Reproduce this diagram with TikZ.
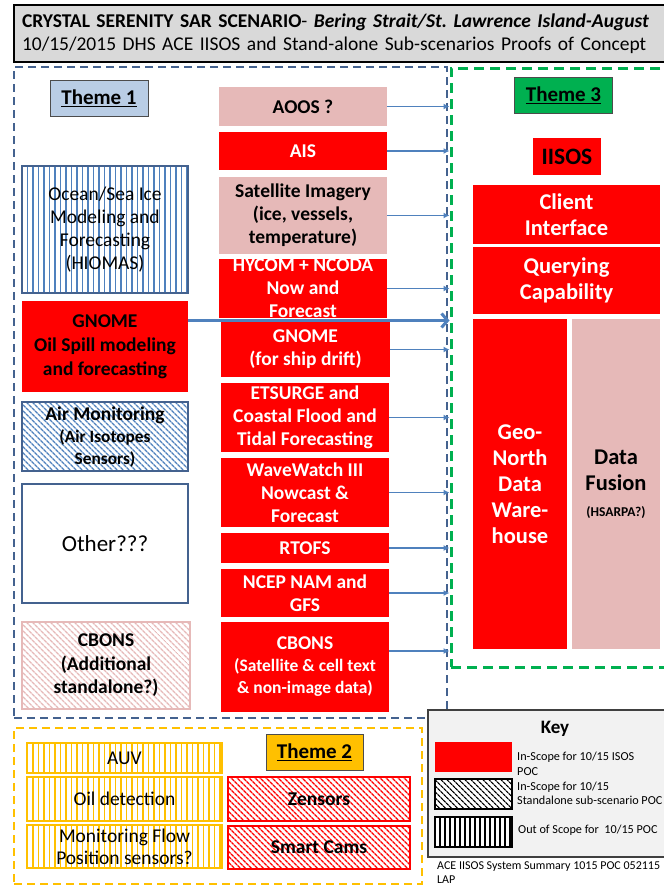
\documentclass[tikz,border=0pt]{standalone}
\usepackage{fontspec}
\setmainfont{Carlito}
\usetikzlibrary{arrows.meta,patterns.meta}
\definecolor{scopered}{RGB}{255,0,0}
\definecolor{pinkbox}{RGB}{230,185,184}
\definecolor{frameblue}{RGB}{68,98,143}
\definecolor{flowblue}{RGB}{79,129,189}
\definecolor{themegreen}{RGB}{0,176,80}
\definecolor{themeorange}{RGB}{255,192,0}
\definecolor{labelblue}{RGB}{185,205,229}
\definecolor{titlegray}{RGB}{217,217,217}
\definecolor{keygray}{RGB}{242,242,242}
\newcommand{\fsz}[2]{\fontsize{#1}{#2}\selectfont}
\tikzset{
  themeframe/.style={draw=#1, line width=2pt, dash pattern=on 8pt off 5pt, rectangle},
  themelabel/.style={draw=black!70, fill=#1, line width=1pt, font=\fsz{21}{24}\bfseries, minimum width=98pt, minimum height=36pt},
  inscope/.style={fill=scopered, text=white, font=\fsz{19.5}{23}\bfseries, align=center, inner sep=0pt},
  inscopeblk/.style={fill=scopered, text=black, font=\fsz{19.5}{24}\bfseries, align=center, inner sep=0pt},
  maybe/.style={fill=pinkbox, text=black, font=\fsz{19.5}{23}\bfseries, align=center, inner sep=0pt},
  bigbox/.style={fill=scopered, text=white, font=\fsz{22.5}{26}\bfseries, align=center, inner sep=0pt},
  outscope/.style={draw=#1, line width=1.5pt, pattern={Lines[angle=90,distance=5.5pt,line width=1.9pt]}, pattern color=#1, align=center, inner sep=0pt, font=\fsz{19.5}{23}},
  standalone/.style={draw=#1, line width=1.5pt, pattern={Lines[angle=-45,distance=4pt,line width=1.4pt]}, pattern color=#1, align=center, inner sep=0pt, font=\fsz{19.5}{23.5}\bfseries},
  swatch/.style={draw=black, line width=1.5pt, minimum width=77pt, minimum height=30pt, preaction={fill=white}},
  keytext/.style={anchor=west, align=left, font=\fsz{12.2}{14.5}, inner sep=0pt},
  flow/.style={-{Latex[length=6pt,width=6pt]}, flowblue, line width=1.8pt},
  bigflow/.style={-{Straight Barb[length=6pt,width=14pt]}, flowblue, line width=3pt}
}
\begin{document}
\begin{tikzpicture}[x=1pt,y=-1pt]
  \useasboundingbox (0,0) rectangle (664,889);
  % frames
  \node[draw=black, fill=titlegray, line width=2pt, minimum width=656pt, minimum height=57pt, text width=640pt, align=left, font=\fsz{19.5}{22.5}, inner sep=0pt] (title) at (342,33.5)
    {\textbf{CRYSTAL SERENITY SAR SCENARIO}- \textbf{\textit{Bering Strait/St.\ Lawrence Island-August}}\\10/15/2015 DHS ACE IISOS and Stand-alone Sub-scenarios Proofs of Concept};
  \node[themeframe=frameblue, minimum width=433pt, minimum height=651pt] (theme1) at (230.5,392.5) {};
  \node[themeframe=themegreen, line width=3pt, dash pattern=on 10pt off 6pt, minimum width=221pt, minimum height=599pt] (theme3) at (561.5,367.5) {};
  \node[themeframe=themeorange, minimum width=408pt, minimum height=156pt] (theme2) at (218,806) {};
  \node[themelabel=labelblue] (lab1) at (99,98) {\underline{Theme 1}};
  \node[themelabel=themegreen] (lab3) at (563.5,95) {\underline{Theme 3}};
  \node[themelabel=themeorange, minimum width=97pt] (lab2) at (314.5,752) {\underline{Theme 2}};

  % theme 1, left column
  \node[outscope=flowblue, draw=frameblue, minimum width=166pt, minimum height=127pt] (ocean) at (105,229.5) {Ocean/Sea Ice\\Modeling and\\Forecasting\\(HIOMAS)};
  \node[inscopeblk, minimum width=166pt, minimum height=91pt] (gnome) at (105,346.5) {GNOME\\Oil Spill modeling\\and forecasting};
  \node[standalone=flowblue, draw=frameblue, minimum width=166pt, minimum height=69pt, font=\fsz{17.3}{22}\bfseries] (airmon) at (105,436.5) {\fsz{19.5}{22}Air Monitoring\\\fsz{17.3}{22}(Air Isotopes\\Sensors)};
  \node[draw=frameblue, line width=1.5pt, minimum width=166pt, minimum height=119pt, font=\fsz{23}{26}] (other) at (105,543.5) {Other???};
  \node[standalone=pinkbox, minimum width=168pt, minimum height=87pt] (cbonsadd) at (106,665.5) {CBONS\\(Additional\\standalone?)};

  % theme 1, data sources
  \node[maybe, minimum width=168pt, minimum height=39pt] (aoos) at (303,106.5) {AOOS ?};
  \node[inscope, minimum width=168pt, minimum height=38pt] (ais) at (303,151) {AIS};
  \node[maybe, minimum width=168pt, minimum height=77pt] (satimg) at (303,215.5) {Satellite Imagery\\(ice, vessels,\\temperature)};
  \node[inscope, minimum width=168pt, minimum height=55pt] (hycom) at (303,288.5) {HYCOM + NCODA\\Now and\\Forecast};
  \node[inscope, minimum width=169pt, minimum height=55pt] (drift) at (305.5,349.5) {GNOME\\(for ship drift)};
  \node[inscope, minimum width=168pt, minimum height=69pt] (etsurge) at (305,417.5) {ETSURGE and\\Coastal Flood and\\Tidal Forecasting};
  \node[inscope, minimum width=168pt, minimum height=69pt] (wavewatch) at (305,492.5) {WaveWatch III\\Nowcast \&\\Forecast};
  \node[inscope, minimum width=168pt, minimum height=30pt] (rtofs) at (305,548) {RTOFS};
  \node[inscope, minimum width=168pt, minimum height=48pt] (ncep) at (305,593) {NCEP NAM and\\GFS};
  \node[inscope, minimum width=168pt, minimum height=90pt, font=\fsz{17.5}{22}\bfseries] (cbons) at (305,667) {\fsz{19.5}{22}CBONS\\\fsz{17.5}{22}(Satellite \& cell text\\\& non-image data)};

  % theme 3
  \node[inscopeblk, font=\fsz{23.5}{26}\bfseries, minimum width=68pt, minimum height=37pt] (iisos) at (567,156.5) {IISOS};
  \node[bigbox, minimum width=187pt, minimum height=59pt] (client) at (566.5,214.5) {Client\\Interface};
  \node[bigbox, minimum width=187pt, minimum height=67pt] (query) at (566.5,280.5) {Querying\\Capability};
  \node[bigbox, minimum width=94pt, minimum height=330pt] (geonorth) at (520,484) {Geo-\\North\\Data\\Ware-\\house};
  \node[bigbox, fill=pinkbox, text=black, minimum width=88pt, minimum height=330pt] (fusion) at (616,484) {Data\\Fusion\\\fsz{13.5}{19}(HSARPA?)};

  % theme 2
  \node[outscope=themeorange, minimum width=195pt, minimum height=30pt] (auv) at (124.5,758) {AUV};
  \node[outscope=themeorange, minimum width=195pt, minimum height=44pt] (oildet) at (124.5,799) {Oil detection};
  \node[outscope=themeorange, minimum width=195pt, minimum height=43pt, font=\fsz{19.5}{22}] (monflow) at (124.5,846.5) {Monitoring Flow\\Position sensors?};
  \node[standalone=scopered, minimum width=182pt, minimum height=44pt] (zensors) at (319,799) {Zensors};
  \node[standalone=scopered, minimum width=182pt, minimum height=43pt] (smartcams) at (319,847.5) {Smart Cams};

  % key
  \node[draw=black!75, fill=keygray, line width=2pt, minimum width=246pt, minimum height=147pt] (key) at (551,783.5) {};
  \node[font=\fsz{19}{22}\bfseries] (keyhead) at (555,729) {Key};
  \node[fill=scopered, minimum width=77pt, minimum height=30pt] (sw1) at (473.5,757) {};
  \node[swatch, pattern={Lines[angle=-45,distance=4pt,line width=1.3pt]}] (sw2) at (473.5,794) {};
  \node[swatch, pattern={Lines[angle=90,distance=5pt,line width=2pt]}] (sw3) at (473.5,832) {};
  \node[keytext] (kt1) at (517,764) {In-Scope for 10/15 ISOS\\POC};
  \node[keytext] (kt2) at (517,793.5) {In-Scope for 10/15\\Standalone sub-scenario POC};
  \node[keytext] (kt3) at (518,830) {Out of Scope for\ \ 10/15 POC};
  \node[keytext, font=\fsz{12}{13.5}, anchor=north west] (footer) at (437,862) {ACE IISOS System Summary 1015 POC 052115\\LAP};

  % feeds into IISOS
  \coordinate (gnomeout) at ([yshift=26pt]gnome.east);
  \coordinate (cbonsout) at ([yshift=16pt]cbons.east);
  \draw[bigflow] (gnomeout) -- (gnomeout -| theme3.west);
  \foreach \src in {aoos,ais,satimg,hycom,drift,etsurge,wavewatch,rtofs,ncep}
    \draw[flow] (\src.east) -- (\src.east -| theme3.west);
  \draw[flow] (cbonsout) -- (cbonsout -| theme3.west);
\end{tikzpicture}
\end{document}
